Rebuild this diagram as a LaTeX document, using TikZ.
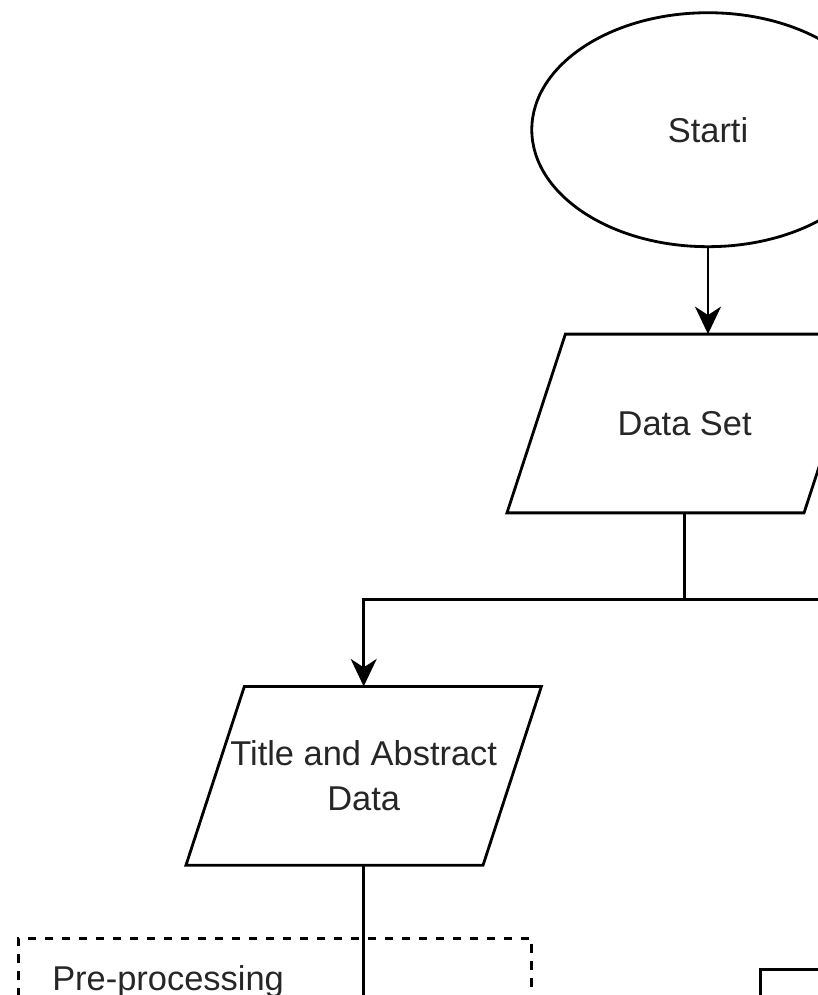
\documentclass[tikz,border=0pt]{standalone}
\usepackage{fontspec}
\setmainfont{Liberation Sans}
\usetikzlibrary{arrows.meta,shapes.geometric}
% slanted outline round an io node
\newcommand\ioframe[1]{%
	\draw ([xshift=-0.584cm]#1.south west) -- ([xshift=0.584cm]#1.north west)
		-- ([xshift=0.584cm]#1.north east) -- ([xshift=-0.584cm]#1.south east) -- cycle;}
\begin{document}
\begin{tikzpicture}[
		x = 0.02cm,
		y = -0.02cm,
		line width = 1.6pt,
		font = \fontsize{19.6}{25.4}\selectfont,
		text = black!85,
		terminal/.style = {
			ellipse,
			draw = black,
			minimum width = 7.05cm,
			minimum height = 4.68cm,
			inner sep = 0pt
		},
		io/.style = {
			rectangle,
			minimum width = 5.886cm,
			minimum height = 3.52cm,
			align = center,
			inner sep = 0pt
		},
		groupbox/.style = {
			draw = black,
			dash pattern = on 0.17cm off 0.17cm,
			anchor = north west,
			minimum width = 10.27cm,
			minimum height = 6cm
		},
		stepbox/.style = {
			draw = black,
			anchor = north west,
			minimum width = 6cm,
			minimum height = 4cm
		},
		flow/.style = {
			-{Stealth[length=5.5mm, width=5.2mm, inset=1.7mm]}
		}
	]
	\clip (0,0) rectangle (818,995);
	\node[terminal] (start)   at (708.0,129.7) {Starti};
	\node[io]       (dataset) at (684.7,423.5) {Data Set};
	\node[io]       (title)   at (363.7,775.8) {Title and Abstract\\Data};
	\ioframe{dataset}
	\ioframe{title}
	\node[groupbox] (prebox)  at (16.7,937.0)  {};
	\node[stepbox]  (nextbox) at (759.0,968.0) {};
	\node[anchor=base west] (prelabel) at (45,990) {Pre-processing};
	\coordinate (split)  at (dataset.south |- 0,599.3);
	\coordinate (branch) at (900,599.3);
	\coordinate (down)   at (title.south |- 0,1100);
	\draw[flow] (start.south) -- (start.south |- dataset.north);
	\draw (dataset.south) -- (split);
	\draw[flow] (split) -| (title.north);
	\draw (split) -- (branch);
	\draw (title.south) -- (down);
\end{tikzpicture}
\end{document}
